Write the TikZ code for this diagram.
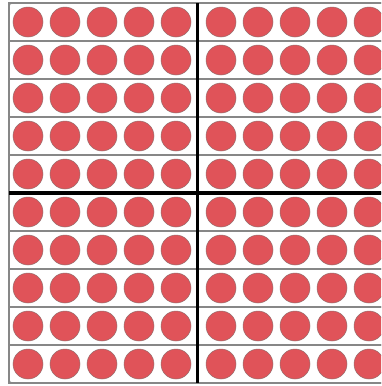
\documentclass[tikz,border=0pt]{standalone}
\definecolor{dotred}{RGB}{224,83,89}
\definecolor{dotedge}{RGB}{150,110,110}
\definecolor{gridgray}{RGB}{135,135,135}
\tikzset{
  dot/.style={circle,fill=dotred,draw=dotedge,line width=0.5pt,minimum size=30pt,inner sep=0pt},
  rowbox/.style={draw=gridgray,line width=1.3pt},
  heavy/.style={draw=black,line width=3.5pt}
}
\begin{document}
\begin{tikzpicture}[x=1pt,y=-1pt]
\useasboundingbox (0,0) rectangle (381,386);
\clip (0,0) rectangle (381,386);
\fill[white] (0,0) rectangle (381,386);
% row boxes
\foreach \r in {0,...,9}{
  \draw[rowbox] (9,{3+38*\r}) rectangle (387,{41+38*\r});
}
\draw[rowbox,rounded corners=3pt] (9,3) rectangle (387,383);
% dots
\foreach \r in {0,...,9}{
  \foreach \c/\x in {0/28,1/65,2/102,3/139,4/176,5/221,6/258,7/295,8/332,9/369}{
    \node[dot] (c-\r-\c) at (\x,{22+38*\r}) {};
  }
}
% heavy dividers
\draw[heavy] (197.5,3) -- (197.5,383);
\draw[heavy] (9,193) -- (387,193);
\end{tikzpicture}
\end{document}
